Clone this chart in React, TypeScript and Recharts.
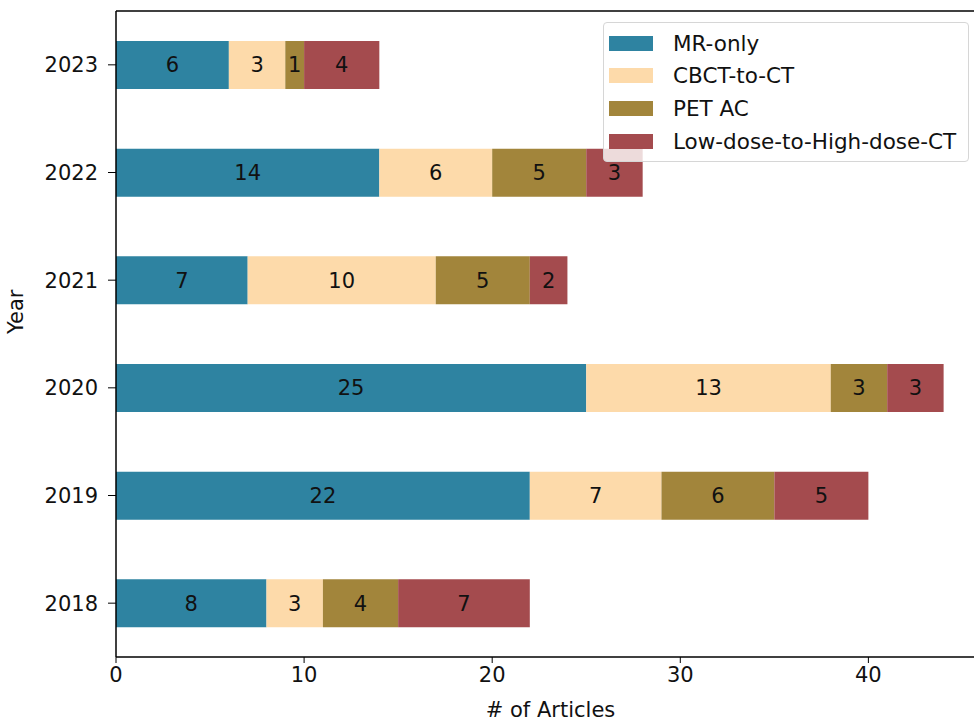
import * as React from "react"
import {
  Bar,
  BarChart,
  XAxis,
  YAxis,
  Legend,
  LabelList,
} from "recharts"

const years = ["2023", "2022", "2021", "2020", "2019", "2018"]
const mrOnly = [6, 14, 7, 25, 22, 8]
const cbctToCt = [3, 6, 10, 13, 7, 3]
const petAc = [1, 5, 5, 3, 6, 4]
const lowToHigh = [4, 3, 2, 3, 5, 7]
const xTicks = [0, 10, 20, 30, 40]

const series = [
  { key: "mr", name: "MR-only", color: "#2E83A1", values: mrOnly },
  { key: "cbct", name: "CBCT-to-CT", color: "#FDDAAA", values: cbctToCt },
  { key: "pet", name: "PET AC", color: "#A2853B", values: petAc },
  { key: "low", name: "Low-dose-to-High-dose-CT", color: "#A44B4E", values: lowToHigh },
]

const data = years.map((year, i) => {
  const row: Record<string, string | number> = { year }
  series.forEach(s => { row[s.key] = s.values[i] })
  return row
})

const FONT = "'DejaVu Sans', sans-serif"
const FS = 21

const LegendBox = () => (
  <div style={{
    position: "absolute", left: 603, top: 22, width: 366, height: 140,
    border: "1px solid #d6d6d6", borderRadius: 4, background: "rgba(255,255,255,0.8)",
    fontFamily: FONT, fontSize: 21.5, color: "#111", boxSizing: "border-box",
  }}>
    {series.map((s, i) => (
      <div key={s.key} style={{ position: "absolute", left: 5, top: 9 + i * 32.7, height: 22, display: "flex", alignItems: "center" }}>
        <div style={{ width: 44, height: 15, background: s.color }} />
        <span style={{ marginLeft: 20, whiteSpace: "nowrap" }}>{s.name}</span>
      </div>
    ))}
  </div>
)

export default function App() {
  return (
    <div style={{ position: "absolute", left: 0, top: 0, width: 974, height: 726, overflow: "hidden", background: "#fff" }}>
      <BarChart
        width={985}
        height={726}
        data={data}
        layout="vertical"
        margin={{ top: 10, right: 0, left: 0, bottom: 0 }}
      >
        <XAxis
          type="number"
          domain={[0, 46.2]}
          ticks={xTicks}
          height={69}
          tickSize={6}
          tickMargin={4}
          axisLine={{ stroke: "#000", strokeWidth: 1.5 }}
          tickLine={{ stroke: "#000" }}
          tick={{ fill: "#111", fontSize: FS, fontFamily: FONT }}
          label={{ value: "# of Articles", position: "insideBottom", offset: 9, fill: "#111", fontSize: FS, fontFamily: FONT }}
        />
        <XAxis
          xAxisId="top"
          orientation="top"
          type="number"
          domain={[0, 46.2]}
          height={1}
          tick={false}
          tickLine={false}
          axisLine={{ stroke: "#000", strokeWidth: 1.5 }}
        />
        <YAxis
          type="category"
          dataKey="year"
          width={116}
          tickSize={8}
          tickMargin={10}
          axisLine={{ stroke: "#000", strokeWidth: 1.5 }}
          tickLine={{ stroke: "#000" }}
          tick={{ fill: "#111", fontSize: FS, fontFamily: FONT }}
          label={{ value: "Year", angle: -90, position: "insideLeft", offset: 16, fill: "#111", fontSize: FS, fontFamily: FONT }}
        />
        <Legend content={<LegendBox />} wrapperStyle={{ position: "absolute", left: 0, top: 0, width: 0, height: 0 }} />
        {series.map(s => (
          <Bar key={s.key} dataKey={s.key} name={s.name} stackId="a" fill={s.color} barSize={48} isAnimationActive={false}>
            <LabelList dataKey={s.key} position="center" fill="#111" fontSize={FS} fontFamily={FONT} />
          </Bar>
        ))}
      </BarChart>
    </div>
  )
}
